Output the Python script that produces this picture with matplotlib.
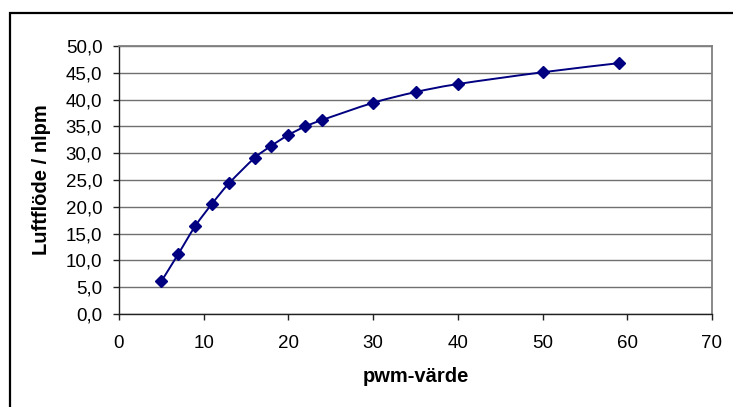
import matplotlib
matplotlib.use("Agg")
import matplotlib.pyplot as plt
import numpy as np
from matplotlib.path import Path
from matplotlib.patches import PathPatch, Rectangle
from matplotlib.ticker import FuncFormatter, MultipleLocator

plt.rcParams['font.family'] = ['Liberation Sans', 'DejaVu Sans']

# pwm-värde och uppmätt luftflöde
pwm = [5, 7, 9, 11, 13, 16, 18, 20, 22, 24, 30, 35, 40, 50, 59]
flow = [6.1, 11.2, 16.4, 20.6, 24.4, 29.1, 31.4, 33.4, 35.0, 36.2,
        39.4, 41.4, 42.9, 45.1, 46.8]

NAVY = '#000080'

def smooth_path(xs, ys):
    # Excel-liknande utjämnad linje (Bezier-kurvor genom punkterna)
    p = np.column_stack([xs, ys]).astype(float)
    verts = [p[0]]
    codes = [Path.MOVETO]
    n = len(p)
    for i in range(n - 1):
        p0 = p[i - 1] if i > 0 else p[i]
        p1 = p[i]
        p2 = p[i + 1]
        p3 = p[i + 2] if i + 2 < n else p[i + 1]
        c1 = p1 + (p2 - p0) / 6.0
        c2 = p2 - (p3 - p1) / 6.0
        verts += [c1, c2, p2]
        codes += [Path.CURVE4] * 3
    return Path(verts, codes)

fig = plt.figure(figsize=(7.33, 4.07), dpi=100)
fig.patch.set_facecolor('white')

# ram runt diagrammet
fig.patches.append(Rectangle((10 / 733, -0.05), 1.0, 1 - 13 / 407 + 0.05,
                             transform=fig.transFigure, fill=False,
                             edgecolor='black', linewidth=1.6))

ax = fig.add_axes([119 / 733, 1 - 314 / 407, 593 / 733, 268 / 407])
ax.set_xlim(0, 70)
ax.set_ylim(0, 50)
ax.xaxis.set_major_locator(MultipleLocator(10))
ax.yaxis.set_major_locator(MultipleLocator(5))
ax.yaxis.set_major_formatter(FuncFormatter(lambda v, _: f"{v:.1f}".replace('.', ',')))

ax.grid(axis='y', color='#707070', linewidth=1.0)
ax.set_axisbelow(True)
for s in ['top', 'right']:
    ax.spines[s].set_color('#808080')
    ax.spines[s].set_linewidth(1.3)
for s in ['left', 'bottom']:
    ax.spines[s].set_color('#202020')
    ax.spines[s].set_linewidth(1.0)

ax.tick_params(direction='out', length=4.5, width=1, color='#202020',
               labelsize=13.5)
ax.tick_params(axis='y', pad=7.5)
ax.tick_params(axis='x', pad=10.5)

ax.add_patch(PathPatch(smooth_path(pwm, flow), fill=False,
                       edgecolor=NAVY, linewidth=1.4, zorder=3))
ax.plot(pwm, flow, linestyle='none', marker='D', markersize=6.5,
        color=NAVY, zorder=4, clip_on=False)

ax.set_xlabel('pwm-värde', fontsize=14.5, fontweight='bold', va='center')
ax.set_ylabel('Luftflöde / nlpm', fontsize=14.5, fontweight='bold', va='center')
ax.xaxis.set_label_coords(0.5, -(377 - 314) / 268)
ax.yaxis.set_label_coords(-(119 - 42) / 593, 0.5)

fig.savefig('out.png', dpi=100)
